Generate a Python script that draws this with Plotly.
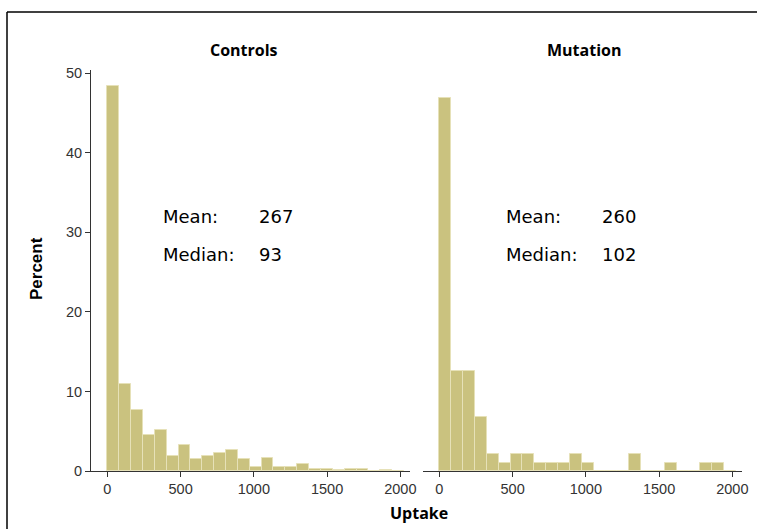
import plotly.graph_objects as go

# Histogram of uptake, percent of subjects per bin
BIN_WIDTH = 81
N_BINS = 25
bin_starts = [i * BIN_WIDTH for i in range(N_BINS)]

controls_pct = [48.4, 10.9, 7.62, 4.48, 5.1, 1.93, 3.23, 1.55, 1.93, 2.22,
                2.6, 1.55, 0.5, 1.68, 0.5, 0.5, 0.92, 0.3, 0.3, 0.1,
                0.3, 0.3, 0.0, 0.15, 0.0]
mutation_pct = [46.9, 12.56, 12.56, 6.78, 2.18, 1.05, 2.18, 2.18, 1.05, 1.05,
                1.05, 2.18, 1.05, 0.0, 0.0, 0.0, 2.18, 0.0, 0.0, 1.05,
                0.0, 0.0, 1.05, 1.05, 0.0]

panel_titles = ["Controls", "Mutation"]
stats_labels = ["Mean:", "Median:"]
controls_stats = ["267", "93"]
mutation_stats = ["260", "102"]

x_ticks = [0, 500, 1000, 1500, 2000]
y_ticks = [0, 10, 20, 30, 40, 50]

W, H = 757, 529


def px(x):
    return x / W


def py(y):
    return 1 - y / H


BAR_COLOR = "#CAC27F"
EDGE_COLOR = "#E6E1B8"
AXIS_COLOR = "#333333"
TICK_FONT = dict(family="Liberation Sans, Arial, sans-serif", size=14.5, color="#333333")
BOLD_FONT = dict(family="Open Sans, sans-serif", size=16, color="#000000", weight="bold")
STAT_FONT = dict(family="DejaVu Sans, sans-serif", size=18, color="#000000")

centers = [s + BIN_WIDTH / 2 for s in bin_starts]

fig = go.Figure()
for i, vals in enumerate([controls_pct, mutation_pct]):
    fig.add_trace(go.Bar(
        x=centers, y=vals, width=BIN_WIDTH,
        marker=dict(color=BAR_COLOR, line=dict(color=EDGE_COLOR, width=1)),
        xaxis="x" if i == 0 else "x2",
        yaxis="y" if i == 0 else "y2",
        showlegend=False, hoverinfo="x+y",
    ))

x_range = [-112, 2066]
y_range = [0, 50.4]
y_dom = [py(471), py(70)]

xaxis_common = dict(
    range=x_range, tickvals=x_ticks, ticks="outside", ticklen=5, tickwidth=1,
    tickcolor=AXIS_COLOR, showline=True, linecolor=AXIS_COLOR, linewidth=1,
    showgrid=False, zeroline=False, tickfont=TICK_FONT, automargin=False,
)

fig.update_layout(
    width=W, height=H,
    margin=dict(l=0, r=0, t=0, b=0, autoexpand=False),
    paper_bgcolor="white", plot_bgcolor="white",
    bargap=0,
    xaxis=dict(domain=[px(91), px(410)], anchor="y", **xaxis_common),
    xaxis2=dict(domain=[px(423), px(742)], anchor="y2", **xaxis_common),
    yaxis=dict(domain=y_dom, range=y_range, tickvals=y_ticks, ticks="outside",
               ticklen=5, tickwidth=1, tickcolor=AXIS_COLOR, showline=True,
               linecolor=AXIS_COLOR, linewidth=1, showgrid=False, zeroline=False,
               tickfont=TICK_FONT, anchor="x", automargin=False),
    yaxis2=dict(domain=y_dom, range=y_range, showticklabels=False, ticks="",
                showline=False, showgrid=False, zeroline=False, anchor="x2",
                matches="y", automargin=False),
)

annotations = [
    dict(text=panel_titles[0], x=px(244), y=py(50), font=BOLD_FONT),
    dict(text=panel_titles[1], x=px(584), y=py(50), font=BOLD_FONT),
    dict(text="Percent", x=px(36), y=py(269), textangle=-90,
         font=dict(family="Liberation Sans, Arial, sans-serif", size=17,
                   color="#000000", weight="bold")),
    dict(text="Uptake", x=px(419), y=py(513), font=BOLD_FONT),
]

stat_rows = [py(216.7), py(254.3)]
for label_x, value_x, values in [(160.7, 256.5, controls_stats),
                                 (504.3, 600.0, mutation_stats)]:
    for row_y, label, value in zip(stat_rows, stats_labels, values):
        annotations.append(dict(text=label, x=px(label_x), y=row_y,
                                xanchor="left", font=STAT_FONT))
        annotations.append(dict(text=value, x=px(value_x), y=row_y,
                                xanchor="left", font=STAT_FONT))

for a in annotations:
    a.setdefault("xanchor", "center")
    a.update(xref="paper", yref="paper", yanchor="middle", showarrow=False)
fig.update_layout(annotations=annotations)

# Frame lines along the left and top edges
fig.add_shape(type="line", xref="paper", yref="paper",
              x0=px(7), y0=0, x1=px(7), y1=py(12),
              line=dict(color="black", width=1.5))
fig.add_shape(type="line", xref="paper", yref="paper",
              x0=px(7), y0=py(12), x1=1, y1=py(12),
              line=dict(color="black", width=1.5))

fig.write_html("out.html")
